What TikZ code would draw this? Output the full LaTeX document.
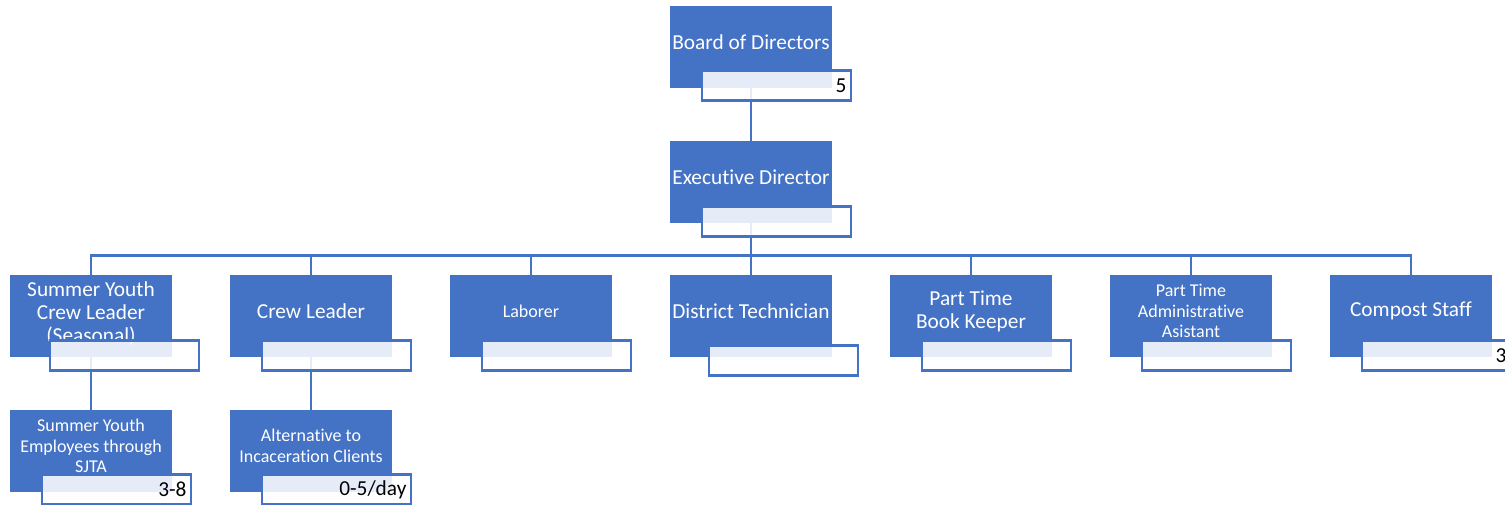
\documentclass[tikz,border=0pt]{standalone}
\usepackage{fontspec}
\setmainfont{Carlito}[Ligatures=NoCommon]
\usetikzlibrary{backgrounds}
\definecolor{roleblue}{HTML}{4472C4}

\begin{document}
\begin{tikzpicture}[x=0.75pt, y=-0.75pt,
    role/.style={fill=roleblue, minimum width=121.5pt, minimum height=61.5pt, inner sep=0pt},
    roletext/.style={text=white, align=center, yshift=3.75pt, font=\fontsize{16}{17.25}\selectfont},
    smalltext/.style={roletext, font=\fontsize{13.5}{15.5}\selectfont},
    countbox/.style={draw=roleblue, line width=1.8pt, fill=white, fill opacity=0.87, text opacity=1,
        minimum width=111.75pt, minimum height=22.5pt, inner sep=0pt, text width=105pt, align=right,
        anchor=north west, font=\fontsize{16}{18}\selectfont},
    link/.style={draw=roleblue, line width=2.1pt}]
    \useasboundingbox (0,0) rectangle (1505,504);

    \node[role, label={[roletext]center:Board of Directors}] (board) at (751,47) {};
    \node[role, label={[roletext]center:Executive Director}] (exec) at (751,182) {};

    \node[role, label={[roletext, yshift=-2.25pt]center:Summer Youth\\Crew Leader\\(Seasonal)}] (sycl) at (91,316) {};
    \node[role, label={[roletext]center:Crew Leader}] (crew) at (311,316) {};
    \node[role, label={[smalltext]center:Laborer}] (lab) at (531,316) {};
    \node[role, label={[roletext]center:District Technician}] (tech) at (751,316) {};
    \node[role, label={[roletext]center:Part Time\\Book Keeper}] (book) at (971,316) {};
    \node[role, label={[smalltext]center:Part Time\\Administrative\\Asistant}] (admin) at (1191,316) {};
    \node[role, label={[roletext]center:Compost Staff}] (compost) at (1411,316) {};

    \node[role, label={[smalltext]center:Summer Youth\\Employees through\\SJTA}] (sye) at (91,451) {};
    \node[role, label={[smalltext]center:Alternative to\\Incaceration Clients}] (atic) at (311,451) {};

    \node[countbox] (boardn) at ([shift={(31,-19)}]board.south west) {5};
    \node[countbox] (execn) at ([shift={(31,-18)}]exec.south west) {};
    \node[countbox] (sycln) at ([shift={(39,-18)}]sycl.south west) {};
    \node[countbox] (crewn) at ([shift={(31,-18)}]crew.south west) {};
    \node[countbox] (labn) at ([shift={(31,-18)}]lab.south west) {};
    \node[countbox] (techn) at ([shift={(38,-13)}]tech.south west) {};
    \node[countbox] (bookn) at ([shift={(31,-18)}]book.south west) {};
    \node[countbox] (adminn) at ([shift={(31,-18)}]admin.south west) {};
    \node[countbox] (compostn) at ([shift={(31,-18)}]compost.south west) {3};
    \node[countbox] (syen) at ([shift={(31,-19)}]sye.south west) {3-8};
    \node[countbox] (aticn) at ([shift={(31,-19)}]atic.south west) {0-5/day};

    \begin{pgfonlayer}{background}
        \draw[link] (board) -- (exec);
        \foreach \c in {sycl,crew,lab,tech,book,admin,compost}
            \draw[link] (exec.south) -- ++(0,32) -| (\c.north);
        \draw[link] (sycl) -- (sye);
        \draw[link] (crew) -- (atic);
    \end{pgfonlayer}
\end{tikzpicture}
\end{document}
